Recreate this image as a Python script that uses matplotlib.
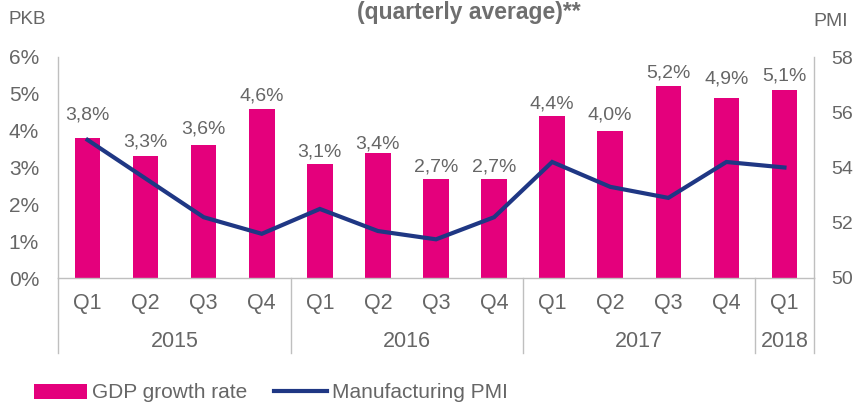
import matplotlib
matplotlib.use("Agg")
import matplotlib.pyplot as plt
from matplotlib.transforms import blended_transform_factory

plt.rcParams["font.family"] = ["Liberation Sans", "DejaVu Sans"]

# Quarterly data
quarters = ["Q1", "Q2", "Q3", "Q4", "Q1", "Q2", "Q3", "Q4", "Q1", "Q2", "Q3", "Q4", "Q1"]
years = ["2015", "2016", "2017", "2018"]
quarters_per_year = [4, 4, 4, 1]
gdp_growth = [3.8, 3.3, 3.6, 4.6, 3.1, 3.4, 2.7, 2.7, 4.4, 4.0, 5.2, 4.9, 5.1]
pmi = [55.0, 53.6, 52.2, 51.6, 52.5, 51.7, 51.4, 52.2, 54.2, 53.3, 52.9, 54.2, 54.0]

# Vertical gap (pixels) between each bar top and its value label
label_gap_px = [23, 14, 16, 13, 12, 9, 12, 12, 12, 16, 13, 19, 14]

PINK = "#E4007C"
NAVY = "#1F3784"
TEXT = "#666666"
GRID = "#BFBFBF"

W, H = 858, 404
left_px, right_px, top_px, bottom_px = 58.5, 813.5, 57, 278

fig = plt.figure(figsize=(W / 100, H / 100), dpi=100)
ax = fig.add_axes([left_px / W, 1 - bottom_px / H, (right_px - left_px) / W,
                   (bottom_px - top_px) / H])

x = list(range(len(quarters)))
bars = ax.bar(x, gdp_growth, width=0.44, color=PINK, zorder=2, label="GDP growth rate")
ax.set_xlim(-0.5, len(quarters) - 0.5)
ax.set_ylim(0, 6)
ax.set_yticks(range(0, 7))
ax.set_yticklabels([f"{v}%" for v in range(0, 7)])
ax.tick_params(axis="y", length=0, pad=14, labelsize=15, labelcolor=TEXT)
ax.set_xticks([])

for s in ["top", "right"]:
    ax.spines[s].set_visible(False)
ax.spines["left"].set_color(GRID)
ax.spines["bottom"].set_color(GRID)
ax.spines["left"].set_linewidth(1.0)
ax.spines["bottom"].set_linewidth(1.0)

# value labels above bars
for xi, v, gap in zip(x, gdp_growth, label_gap_px):
    ax.annotate(f"{v:.1f}%".replace(".", ","), (xi, v), xytext=(0, gap),
                textcoords="offset pixels", ha="center", va="center",
                fontsize=14, color=TEXT)

# PMI line on the right axis
ax2 = ax.twinx()
line, = ax2.plot(x, pmi, color=NAVY, lw=3.0, zorder=3, label="Manufacturing PMI",
                 solid_joinstyle="miter")
ax2.set_ylim(50, 58)
ax2.set_yticks(range(50, 59, 2))
ax2.tick_params(axis="y", length=0, pad=13, labelsize=14, labelcolor=TEXT)
for s in ["top", "left", "bottom"]:
    ax2.spines[s].set_visible(False)
ax2.spines["right"].set_color(GRID)
ax2.spines["right"].set_linewidth(1.0)

# two-level category axis
trans = blended_transform_factory(ax.transData, ax.transAxes)
axis_h = bottom_px - top_px
q_y = -(303 - bottom_px) / axis_h
yr_y = -(341.5 - bottom_px) / axis_h
sep_y = -(353 - bottom_px) / axis_h
for xi, q in zip(x, quarters):
    ax.text(xi, q_y, q, transform=trans, ha="center", va="center",
            fontsize=15.5, color=TEXT)

start = 0
bounds = [-0.5]
for yr, n in zip(years, quarters_per_year):
    center = start + (n - 1) / 2
    ax.text(center, yr_y, yr, transform=trans, ha="center", va="center",
            fontsize=15.5, color=TEXT)
    start += n
    bounds.append(start - 0.5)
for b in bounds:
    ax.plot([b, b], [0, sep_y], transform=trans, color=GRID, lw=1.0, clip_on=False)

# axis captions and title
fig.text(27.5 / W, 1 - 19 / H, "PKB", ha="center", va="center", fontsize=13.5, color=TEXT)
fig.text(831 / W, 1 - 22 / H, "PMI", ha="center", va="center", fontsize=14, color=TEXT)
fig.text(468.5 / W, 1 - 19 / H, "(quarterly average)**", ha="center", va="baseline",
         fontsize=16.5, fontweight="bold", color="#6E6E6E")

fig.legend(handles=[bars, line], loc="center left", bbox_to_anchor=(34 / W, 1 - 393 / H),
           ncol=2, frameon=False, fontsize=15, labelcolor=TEXT, handlelength=2.55,
           handletextpad=0.25, columnspacing=1.25, borderpad=0, borderaxespad=0)

fig.savefig("out.png", dpi=100)
